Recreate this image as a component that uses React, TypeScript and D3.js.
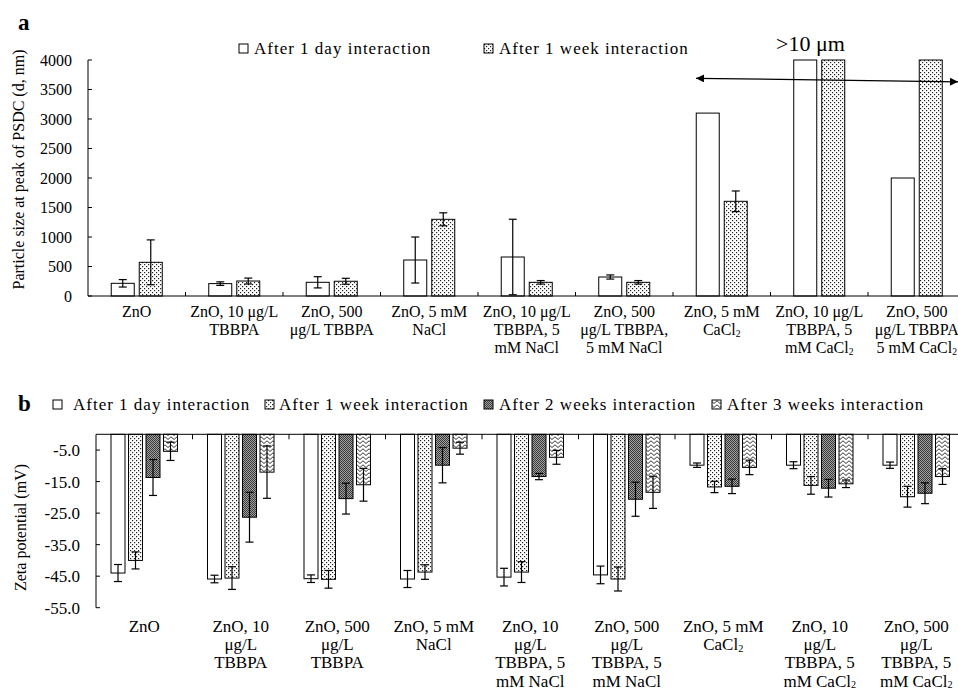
import React from 'react';
import * as d3 from 'd3';

// ---------- DATA ----------
const categoriesTop: string[][] = [
  ['ZnO'],
  ['ZnO, 10 μg/L', 'TBBPA'],
  ['ZnO, 500', 'μg/L TBBPA'],
  ['ZnO, 5 mM', 'NaCl'],
  ['ZnO, 10 μg/L', 'TBBPA, 5', 'mM NaCl'],
  ['ZnO, 500', 'μg/L TBBPA,', '5 mM NaCl'],
  ['ZnO, 5 mM', 'CaCl₂'],
  ['ZnO, 10 μg/L', 'TBBPA, 5', 'mM CaCl₂'],
  ['ZnO, 500', 'μg/L TBBPA', '5 mM CaCl₂'],
];
const categoriesBottom: string[][] = [
  ['ZnO'],
  ['ZnO, 10', 'μg/L', 'TBBPA'],
  ['ZnO, 500', 'μg/L', 'TBBPA'],
  ['ZnO, 5 mM', 'NaCl'],
  ['ZnO, 10', 'μg/L', 'TBBPA, 5', 'mM NaCl'],
  ['ZnO, 500', 'μg/L', 'TBBPA, 5', 'mM NaCl'],
  ['ZnO, 5 mM', 'CaCl₂'],
  ['ZnO, 10', 'μg/L', 'TBBPA, 5', 'mM CaCl₂'],
  ['ZnO, 500', 'μg/L', 'TBBPA, 5', 'mM CaCl₂'],
];

const sizeDay = [215, 210, 232, 610, 661, 322, 3100, 4000, 2000];
const sizeDayErr = [63, 30, 95, 390, 640, 35, 0, 0, 0];
const sizeWeek = [571, 254, 250, 1300, 232, 232, 1605, 4000, 4000];
const sizeWeekErr = [380, 50, 50, 110, 30, 30, 175, 0, 0];

const zetaDay = [-44.0, -45.9, -45.8, -45.9, -45.3, -44.6, -9.8, -9.8, -9.8];
const zetaDayErr = [2.7, 1.2, 1.2, 2.7, 2.8, 2.8, 0.7, 1.1, 1.0];
const zetaWeek = [-40.0, -45.6, -46.0, -43.7, -43.7, -45.9, -16.7, -16.2, -19.8];
const zetaWeekErr = [2.7, 3.6, 2.8, 2.3, 3.3, 3.8, 1.8, 2.8, 3.3];
const zeta2Weeks = [-13.7, -26.3, -20.4, -9.8, -13.4, -20.6, -16.5, -17.1, -18.7];
const zeta2WeeksErr = [5.7, 7.9, 4.9, 5.6, 1.0, 5.4, 2.3, 2.8, 3.3];
const zeta3Weeks = [-5.4, -12.0, -16.0, -4.4, -7.3, -18.4, -10.5, -15.7, -13.4];
const zeta3WeeksErr = [2.9, 8.3, 5.2, 1.9, 2.2, 5.1, 2.3, 1.2, 2.5];

const seriesTop = ['After 1 day interaction', 'After 1 week interaction'];
const seriesBottom = [
  'After 1 day interaction',
  'After 1 week interaction',
  'After 2 weeks interaction',
  'After 3 weeks interaction',
];
const sizeTicks = [0, 500, 1000, 1500, 2000, 2500, 3000, 3500, 4000];
const zetaTicks = [-5, -15, -25, -35, -45, -55];
const arrowLabel = '>10 μm';
const arrowYStart = 3690;
const arrowYEnd = 3630;

const FONT = '"Liberation Serif", "Times New Roman", serif';
const fillsTop = ['#fff', 'url(#dots)'];
const fillsBottom = ['#fff', 'url(#dots)', 'url(#dark)', 'url(#zig)'];

function Label({ lines, x, y, size, lh }: { lines: string[]; x: number; y: number; size: number; lh: number }) {
  return (
    <text x={x} y={y} fontSize={size} textAnchor="middle" fontFamily={FONT} fill="#000">
      {lines.map((l, i) => {
        const sub = l.endsWith('₂');
        return (
          <tspan key={i} x={x} y={y + i * lh}>
            {sub ? l.slice(0, -1) : l}
            {sub ? <tspan fontSize={size * 0.6} dy={1.5}>2</tspan> : null}
          </tspan>
        );
      })}
    </text>
  );
}

function ErrBar({ x, y1, y2, cap }: { x: number; y1: number; y2: number; cap: number }) {
  return (
    <g stroke="#000" strokeWidth={1.2}>
      <line x1={x} x2={x} y1={y1} y2={y2} />
      <line x1={x - cap / 2} x2={x + cap / 2} y1={y1} y2={y1} />
      <line x1={x - cap / 2} x2={x + cap / 2} y1={y2} y2={y2} />
    </g>
  );
}

export default function App() {
  const W = 958;
  const H = 690;

  // ---- top panel scales ----
  const xTop = d3.scaleBand<number>().domain(d3.range(9)).range([88, 88 + 9 * 97.5]);
  const xTopInner = d3.scaleBand<number>().domain([0, 1]).range([0, xTop.bandwidth()]).paddingInner(0.1786).paddingOuter(0.83);
  const yTop = d3.scaleLinear().domain([0, 4000]).range([296, 60]);
  const topVals = [sizeDay, sizeWeek];
  const topErrs = [sizeDayErr, sizeWeekErr];

  // ---- bottom panel scales ----
  const xBot = d3.scaleBand<number>().domain(d3.range(9)).range([96, 96 + 9 * 96.5]);
  const xBotInner = d3.scaleBand<number>().domain([0, 1, 2, 3]).range([0, xBot.bandwidth()]).paddingInner(0.2).paddingOuter(0.857);
  const yBot = d3.scaleLinear().domain([0, -55]).range([434.3, 607.7]);
  const botVals = [zetaDay, zetaWeek, zeta2Weeks, zeta3Weeks];
  const botErrs = [zetaDayErr, zetaWeekErr, zeta2WeeksErr, zeta3WeeksErr];

  const arrowX1 = (xTop(6) as number) + 23;
  const arrowX2 = W;

  const topLegendX = [239, 484];
  const topLegendTextX = [254, 499];
  const botLegendX = [53, 265, 484, 712];
  const botLegendTextX = [73, 279, 499, 727];

  return (
    <svg width={W} height={H} style={{ position: 'absolute', left: 0, top: 0, background: '#fff' }} fontFamily={FONT}>
      <defs>
        <pattern id="dots" width={4} height={4} patternUnits="userSpaceOnUse">
          <rect width={4} height={4} fill="#fff" />
          <rect x={0} y={0} width={1.2} height={1.2} fill="#222" />
          <rect x={2} y={2} width={1.2} height={1.2} fill="#222" />
        </pattern>
        <pattern id="dark" width={2} height={2} patternUnits="userSpaceOnUse">
          <rect width={2} height={2} fill="#a0a0a0" />
          <rect x={0} y={0} width={1} height={1} fill="#3a3a3a" />
          <rect x={1} y={1} width={1} height={1} fill="#3a3a3a" />
        </pattern>
        <pattern id="zig" width={6} height={4} patternUnits="userSpaceOnUse">
          <rect width={6} height={4} fill="#fff" />
          <path d="M0,3.5 L3,0.8 L6,3.5" fill="none" stroke="#222" strokeWidth={0.9} />
        </pattern>
        <marker id="ah" viewBox="0 0 10 10" refX={10} refY={5} markerWidth={10} markerHeight={8} markerUnits="userSpaceOnUse" orient="auto-start-reverse">
          <path d="M0,0 L10,5 L0,10 z" fill="#000" />
        </marker>
      </defs>

      {/* ================= PANEL A ================= */}
      <text x={18} y={30} fontSize={23} fontWeight="bold">a</text>
      {seriesTop.map((s, i) => (
        <g key={s}>
          <rect x={topLegendX[i]} y={44} width={9} height={9} fill={fillsTop[i]} stroke="#000" strokeWidth={1} />
          <text x={topLegendTextX[i]} y={53.5} fontSize={17} letterSpacing={1}>{s}</text>
        </g>
      ))}
      {/* y axis */}
      <text transform={`translate(24,${(47 + 292) / 2}) rotate(-90)`} textAnchor="middle" fontSize={16}>
        Particle size at peak of PSDC (d, nm)
      </text>
      <line x1={88} x2={88} y1={yTop(4000)} y2={yTop(0)} stroke="#000" />
      {sizeTicks.map((t) => (
        <g key={t}>
          <line x1={88} x2={92} y1={yTop(t)} y2={yTop(t)} stroke="#000" />
          <text x={72} y={yTop(t) + 5.5} textAnchor="end" fontSize={16}>{t}</text>
        </g>
      ))}
      {/* bars */}
      {topVals.map((vals, s) =>
        vals.map((v, c) => {
          const x = (xTop(c) as number) + (xTopInner(s) as number);
          const bw = xTopInner.bandwidth();
          return (
            <rect key={`t${s}-${c}`} x={x} y={yTop(v)} width={bw} height={yTop(0) - yTop(v)} fill={fillsTop[s]} stroke="#000" strokeWidth={1} />
          );
        })
      )}
      {topVals.map((vals, s) =>
        vals.map((v, c) => {
          const e = topErrs[s][c];
          if (!e) return null;
          const cx = (xTop(c) as number) + (xTopInner(s) as number) + xTopInner.bandwidth() / 2;
          return <ErrBar key={`te${s}-${c}`} x={cx} y1={yTop(v + e)} y2={yTop(Math.max(0, v - e))} cap={8} />;
        })
      )}
      {/* x axis */}
      <line x1={88} x2={W} y1={yTop(0)} y2={yTop(0)} stroke="#000" />
      {d3.range(1, 9).map((c) => (
        <line key={c} x1={xTop(c) as number} x2={xTop(c) as number} y1={yTop(0)} y2={yTop(0) - 4} stroke="#000" />
      ))}
      {categoriesTop.map((lines, c) => (
        <Label key={c} lines={lines} x={(xTop(c) as number) + xTop.bandwidth() / 2} y={317} size={16} lh={18} />
      ))}
      {/* arrow annotation */}
      <line x1={arrowX1} x2={arrowX2} y1={yTop(arrowYStart)} y2={yTop(arrowYEnd)} stroke="#000" strokeWidth={1.2} markerStart="url(#ah)" markerEnd="url(#ah)" />
      <text x={776} y={51} fontSize={22}>{arrowLabel}</text>

      {/* ================= PANEL B ================= */}
      <text x={18} y={411} fontSize={23} fontWeight="bold">b</text>
      {seriesBottom.map((s, i) => (
        <g key={s}>
          <rect x={botLegendX[i]} y={400} width={9} height={9} fill={fillsBottom[i]} stroke="#000" strokeWidth={1} />
          <text x={botLegendTextX[i]} y={409.5} fontSize={17} letterSpacing={1}>{s}</text>
        </g>
      ))}
      <text transform={`translate(26,${(457 + 598) / 2}) rotate(-90)`} textAnchor="middle" fontSize={16}>
        Zeta potential (mV)
      </text>
      {botVals.map((vals, s) =>
        vals.map((v, c) => {
          const x = (xBot(c) as number) + (xBotInner(s) as number);
          const bw = xBotInner.bandwidth();
          return (
            <rect key={`b${s}-${c}`} x={x} y={yBot(0)} width={bw} height={yBot(v) - yBot(0)} fill={fillsBottom[s]} stroke="#000" strokeWidth={1} />
          );
        })
      )}
      {botVals.map((vals, s) =>
        vals.map((v, c) => {
          const e = botErrs[s][c];
          const cx = (xBot(c) as number) + (xBotInner(s) as number) + xBotInner.bandwidth() / 2;
          return <ErrBar key={`be${s}-${c}`} x={cx} y1={yBot(v + e)} y2={yBot(v - e)} cap={8} />;
        })
      )}
      <line x1={96} x2={96} y1={yBot(0)} y2={yBot(-55)} stroke="#000" />
      {zetaTicks.map((t) => (
        <g key={t}>
          <line x1={96} x2={100} y1={yBot(t)} y2={yBot(t)} stroke="#000" />
          <text x={80} y={yBot(t) + 6} textAnchor="end" fontSize={17}>{t.toFixed(1)}</text>
        </g>
      ))}
      <line x1={96} x2={W} y1={yBot(0)} y2={yBot(0)} stroke="#000" />
      {d3.range(1, 9).map((c) => (
        <line key={c} x1={xBot(c) as number} x2={xBot(c) as number} y1={yBot(0)} y2={yBot(0) + 5} stroke="#000" />
      ))}
      {categoriesBottom.map((lines, c) => (
        <Label key={c} lines={lines} x={(xBot(c) as number) + xBot.bandwidth() / 2} y={632} size={17} lh={18.2} />
      ))}
    </svg>
  );
}
